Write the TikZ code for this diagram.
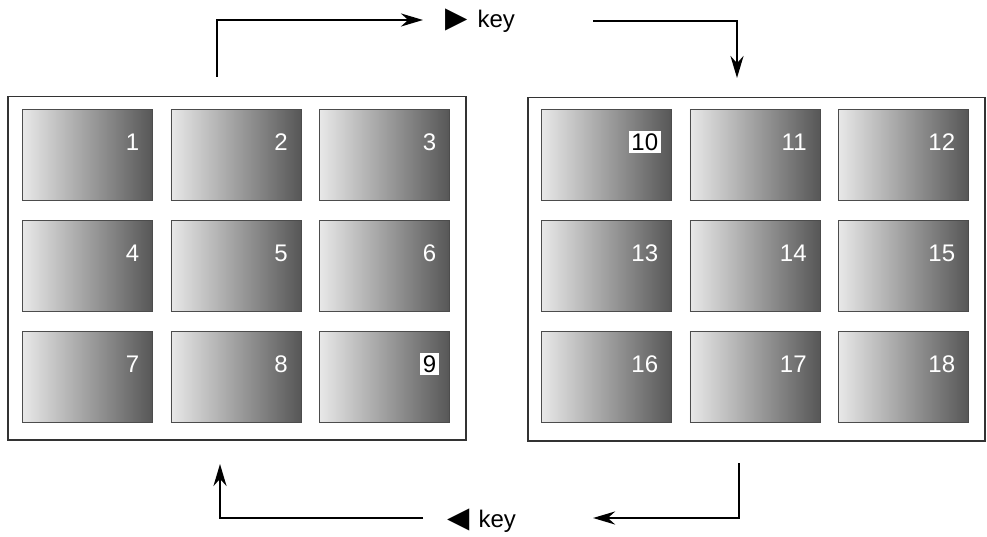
\documentclass[tikz,border=0pt]{standalone}
\usepackage{fontspec}
\setmainfont{Liberation Sans}
\newfontfamily\symfont{DejaVu Sans}
\usetikzlibrary{arrows.meta}
\tikzset{
  panel/.style={draw=black!80,line width=1.5pt,minimum width=458pt,minimum height=343pt,anchor=north west,inner sep=0pt},
  card/.style={draw=black!70,line width=.8pt,left color=black!9,right color=black!66,minimum width=130pt,minimum height=91pt,anchor=north west,inner sep=0pt},
  num/.style={text=white,font=\fontsize{24}{24}\selectfont,anchor=east,inner sep=2.5pt},
  hl0/.style={},
  hl1/.style={fill=white,text=black},
  keylabel/.style={font=\fontsize{24}{24}\selectfont,inner sep=0pt,anchor=base west},
  flow/.style={line width=2.6pt,-{Stealth[length=22pt,width=13pt]}},
}
\begin{document}
\begin{tikzpicture}[x=1pt,y=-1pt]
\useasboundingbox (0,0) rectangle (987,537);
% the two screens
\node[panel] (lp) at (7,96) {};
\node[panel,minimum width=457pt] (rp) at (527,97) {};
\foreach \p/\dx in {0/0,1/519} {
  \foreach \r in {0,1,2} {
    \foreach \c in {0,1,2} {
      \pgfmathtruncatemacro{\n}{9*\p+3*\r+\c+1}
      \pgfmathtruncatemacro{\hl}{or(\n==9,\n==10)}
      \node[card] (b\n) at (22+\dx+148.5*\c,109+111*\r) {};
      \node[num,hl\hl] (n\n) at ([shift={(-11pt,-33pt)}]b\n.north east) {\n};
    }
  }
}
% key labels
\node[keylabel] (kt) at (445,28) {{\symfont\fontsize{29}{29}\selectfont ▶}\hspace{10pt}key};
\node[keylabel] (kb) at (447,527) {{\symfont\fontsize{29}{29}\selectfont ◀}\hspace{9pt}key};
\coordinate (s1) at (217,77);
\coordinate (e1) at (737,78);
\coordinate (s2) at (739,463);
\coordinate (e2) at (220,464);
% paging arrows
\draw[flow] (s1) |- ([shift={(-22pt,8pt)}]kt.base west);
\draw[flow] ([shift={(78pt,7pt)}]kt.base east) -| (e1);
\draw[flow] (s2) |- ([shift={(77pt,9pt)}]kb.base east);
\draw[flow] ([shift={(-24pt,9pt)}]kb.base west) -| (e2);
\end{tikzpicture}
\end{document}
